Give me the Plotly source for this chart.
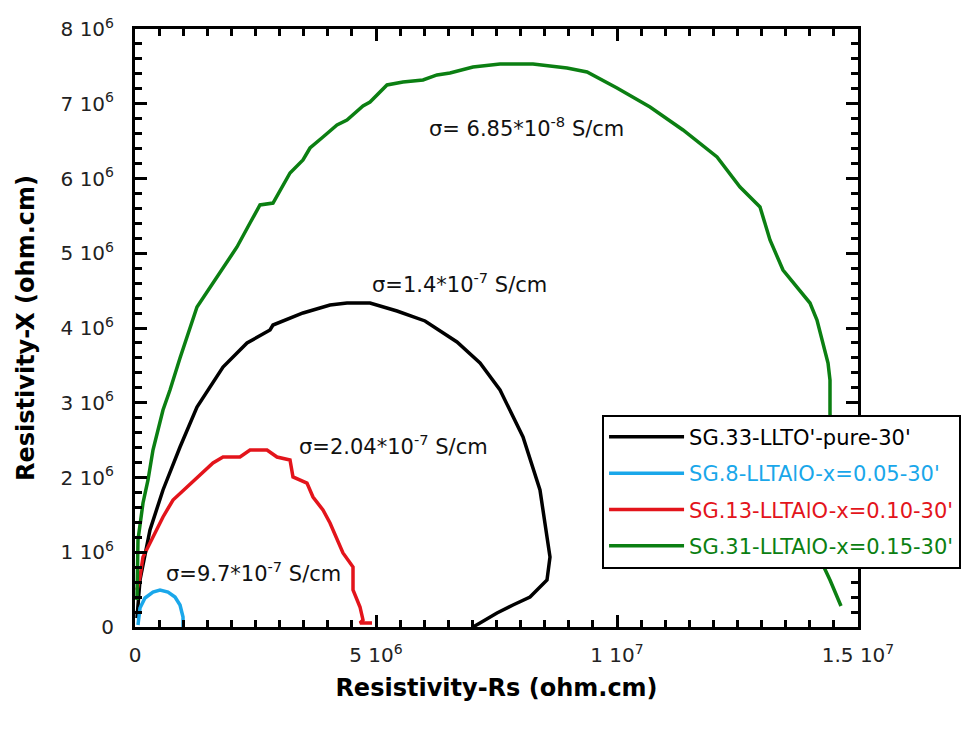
import plotly.graph_objects as go

# ---------------- data (ohm.cm) ----------------
black_x = [4.1e4, 1.04e5, 3.11e5, 5.81e5, 9.34e5, 1.286e6, 1.826e6, 2.178e6, 2.324e6, 2.801e6,
           2.863e6, 3.485e6, 4.046e6, 4.398e6, 4.876e6, 5.436e6, 6.017e6, 6.680e6, 7.158e6, 7.573e6,
           8.050e6, 8.402e6, 8.568e6, 8.610e6, 8.548e6, 8.195e6, 7.842e6, 7.510e6, 7.158e6, 7.012e6]
black_y = [1.20e5, 6.29e5, 1.298e6, 1.833e6, 2.408e6, 2.943e6, 3.478e6, 3.706e6, 3.799e6, 3.973e6,
           4.040e6, 4.201e6, 4.308e6, 4.334e6, 4.334e6, 4.227e6, 4.094e6, 3.813e6, 3.532e6, 3.171e6,
           2.542e6, 1.833e6, 1.164e6, 9.36e5, 6.29e5, 4.01e5, 2.94e5, 1.87e5, 5.4e4, 0.0]

blue_x = [6.2e4, 1.04e5, 2.07e5, 3.73e5, 5.19e5, 6.85e5, 8.30e5, 9.34e5, 9.96e5, 9.96e5]
blue_y = [2.7e4, 2.54e5, 3.88e5, 4.68e5, 4.95e5, 4.68e5, 4.01e5, 2.94e5, 1.34e5, 0.0]

red_x = [4.1e4, 1.04e5, 1.66e5, 3.73e5, 5.81e5, 7.88e5, 1.079e6, 1.349e6, 1.618e6, 1.826e6,
         2.178e6, 2.386e6, 2.739e6, 2.946e6, 3.216e6, 3.278e6, 3.568e6, 3.693e6, 3.900e6, 4.046e6,
         4.191e6, 4.315e6, 4.523e6, 4.523e6, 4.668e6, 4.730e6, 4.668e6, 4.917e6]
red_y = [4.95e5, 6.69e5, 9.36e5, 1.204e6, 1.472e6, 1.699e6, 1.873e6, 2.033e6, 2.194e6, 2.274e6,
         2.274e6, 2.368e6, 2.368e6, 2.274e6, 2.234e6, 2.007e6, 1.926e6, 1.739e6, 1.565e6, 1.391e6,
         1.164e6, 9.90e5, 8.03e5, 4.95e5, 2.68e5, 9.4e4, 5.4e4, 5.4e4]

green_x = [4.1e4, 6.2e4, 1.66e5, 2.70e5, 3.73e5, 5.81e5, 7.26e5, 9.34e5, 1.286e6, 1.618e6,
           1.971e6, 2.116e6, 2.386e6, 2.593e6, 2.863e6, 3.008e6, 3.216e6, 3.485e6, 3.631e6, 3.900e6,
           4.191e6, 4.398e6, 4.730e6, 4.876e6, 5.228e6, 5.560e6, 5.975e6, 6.266e6, 6.535e6, 7.012e6,
           7.573e6, 8.257e6, 8.963e6, 9.378e6, 1.0000e7, 1.0685e7, 1.1369e7, 1.2075e7, 1.2552e7, 1.2967e7,
           1.3174e7, 1.3444e7, 1.3734e7, 1.4004e7, 1.4149e7, 1.4274e7, 1.4378e7, 1.4419e7, 1.4419e7, 1.4440e7,
           1.4419e7, 1.4336e7, 1.4253e7, 1.4419e7, 1.4647e7]
green_y = [3.61e5, 1.164e6, 1.659e6, 1.967e6, 2.368e6, 2.903e6, 3.171e6, 3.599e6, 4.281e6, 4.602e6,
           4.950e6, 5.084e6, 5.405e6, 5.646e6, 5.672e6, 5.846e6, 6.074e6, 6.248e6, 6.408e6, 6.555e6,
           6.716e6, 6.783e6, 6.970e6, 7.023e6, 7.251e6, 7.291e6, 7.318e6, 7.385e6, 7.411e6, 7.492e6,
           7.532e6, 7.532e6, 7.478e6, 7.425e6, 7.211e6, 6.957e6, 6.649e6, 6.288e6, 5.886e6, 5.619e6,
           5.177e6, 4.776e6, 4.549e6, 4.334e6, 4.107e6, 3.799e6, 3.532e6, 3.304e6, 2.863e6, 2.234e6,
           1.565e6, 1.164e6, 8.56e5, 6.29e5, 2.81e5]

series_names = ["SG.33-LLTO'-pure-30'", "SG.8-LLTAlO-x=0.05-30'",
                "SG.13-LLTAlO-x=0.10-30'", "SG.31-LLTAlO-x=0.15-30'"]
series_colors = ["#000000", "#1aa7ea", "#e3141b", "#0b7f12"]

x_tickvals = [0, 5e6, 1e7, 1.5e7]
x_ticktext = ["0", "5 10<sup>6</sup>", "1 10<sup>7</sup>", "1.5 10<sup>7</sup>"]
y_tickvals = [0, 1e6, 2e6, 3e6, 4e6, 5e6, 6e6, 7e6, 8e6]
y_ticktext = ["0"] + [f"{i} 10<sup>6</sup>" for i in range(1, 9)]

labels = ["σ= 6.85*10<sup>-8</sup> S/cm", "σ=1.4*10<sup>-7</sup> S/cm",
          "σ=2.04*10<sup>-7</sup> S/cm", "σ=9.7*10<sup>-7</sup> S/cm"]
label_x = [8.13e6, 6.74e6, 5.37e6, 2.45e6]
label_y = [6.69e6, 4.60e6, 2.43e6, 7.36e5]

# ---------------- figure ----------------
FONT = "DejaVu Sans"
fig = go.Figure()
all_x = [black_x, blue_x, red_x, green_x]
all_y = [black_y, blue_y, red_y, green_y]
for i, (xs, ys) in enumerate(zip(all_x, all_y)):
    fig.add_trace(go.Scatter(
        x=xs, y=ys, mode="lines",
        line=dict(color=series_colors[i], width=3.5),
        name=f"<span style='color:{series_colors[i]}'>{series_names[i]}</span>",
        legendgroup=f"g{i}",
    ))

for t, xx, yy in zip(labels, label_x, label_y):
    fig.add_annotation(x=xx, y=yy, text=t, showarrow=False,
                       font=dict(family=FONT, size=21, color="#111111"),
                       xanchor="center", yanchor="middle")

axis_common = dict(
    showline=True, linecolor="black", linewidth=3, mirror="ticks",
    ticks="inside", ticklen=12, tickwidth=2.5, tickcolor="black",
    showgrid=False, zeroline=False,
    tickfont=dict(family=FONT, size=20, color="#222222"),
    tickmode="array",
)
fig.update_xaxes(
    **axis_common, range=[0, 1.5e7], tickvals=x_tickvals, ticktext=x_ticktext,
    minor=dict(ticks="inside", ticklen=7, tickwidth=2.5, tickcolor="black",
               tickmode="linear", tick0=0, dtick=5e5),
    ticklabelstandoff=8,
    title=dict(text="<b>Resistivity-Rs (ohm.cm)</b>",
               font=dict(family=FONT, size=24, color="black"), standoff=14),
)
fig.update_yaxes(
    **axis_common, range=[0, 8e6], tickvals=y_tickvals, ticktext=y_ticktext,
    minor=dict(ticks="inside", ticklen=7, tickwidth=2.5, tickcolor="black",
               tickmode="linear", tick0=0, dtick=2e5),
    ticklabelstandoff=14,
    title=dict(text="<b>Resistivity-X (ohm.cm)</b>",
               font=dict(family=FONT, size=24, color="black"), standoff=20),
)

fig.update_layout(
    width=976, height=733,
    margin=dict(l=135, r=118, t=29, b=106, autoexpand=False),
    paper_bgcolor="white", plot_bgcolor="white",
    showlegend=True,
    legend=dict(x=0.646, y=0.355, xanchor="left", yanchor="top",
                bgcolor="white", bordercolor="black", borderwidth=2,
                font=dict(family=FONT, size=21),
                itemwidth=75, tracegroupgap=6),
)

fig.write_html("out.html")
